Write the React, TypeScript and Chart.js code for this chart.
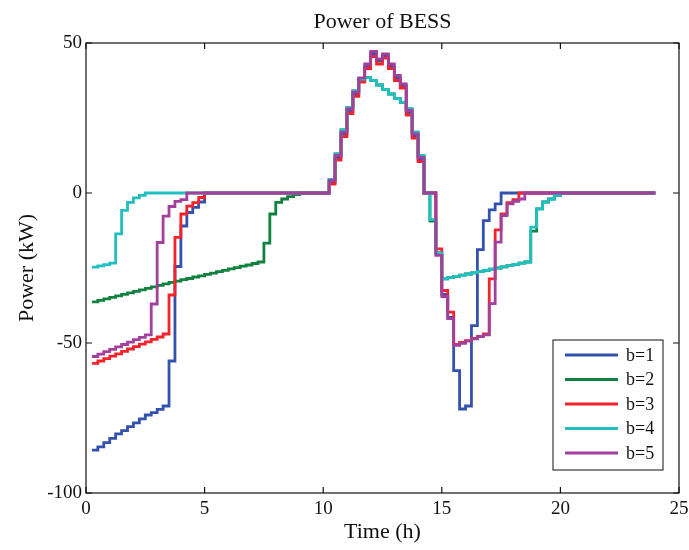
import React, { useEffect, useRef } from 'react';
import { Chart, registerables } from 'chart.js';

Chart.register(...registerables);

// time grid of the stairs plot, hours
const hours = [
  0.25, 0.5, 0.75, 1, 1.25, 1.5, 1.75, 2, 2.25, 2.5, 2.75, 3,
  3.25, 3.5, 3.75, 4, 4.25, 4.5, 4.75, 5, 5.25, 5.5, 5.75, 6,
  6.25, 6.5, 6.75, 7, 7.25, 7.5, 7.75, 8, 8.25, 8.5, 8.75, 9,
  9.25, 9.5, 9.75, 10, 10.25, 10.5, 10.75, 11, 11.25, 11.5, 11.75, 12,
  12.25, 12.5, 12.75, 13, 13.25, 13.5, 13.75, 14, 14.25, 14.5, 14.75, 15,
  15.25, 15.5, 15.75, 16, 16.25, 16.5, 16.75, 17, 17.25, 17.5, 17.75, 18,
  18.25, 18.5, 18.75, 19, 19.25, 19.5, 19.75, 20, 20.25, 20.5, 20.75, 21,
  21.25, 21.5, 21.75, 22, 22.25, 22.5, 22.75, 23, 23.25, 23.5, 23.75, 24,
];

// BESS power (kW) for each b
const b1 = [
  -85.7, -84.6, -83.2, -81.8, -80.3, -79.2, -77.9, -76.6, -75.3, -74, -73.2, -72.1,
  -71, -56, -24.5, -11, -6.5, -4.8, -3, 0, 0, 0, 0, 0,
  0, 0, 0, 0, 0, 0, 0, 0, 0, 0, 0, 0,
  0, 0, 0, 0, 3.6, 11.8, 19.6, 27.3, 33, 37.8, 42.3, 46.5,
  44, 45.8, 42.3, 38.5, 35.8, 26.8, 19, 11.2, 0, 0, -20.3, -33.8,
  -41.5, -59.2, -72, -71, -44.2, -18.9, -9.2, -5.6, -3.6, 0, 0, 0,
  0, 0, 0, 0, 0, 0, 0, 0, 0, 0, 0, 0,
  0, 0, 0, 0, 0, 0, 0, 0, 0, 0, 0, 0,
];

const b2 = [
  -36.3, -35.8, -35.3, -34.8, -34.3, -33.8, -33.3, -32.8, -32.3, -31.8, -31.3, -30.8,
  -30.3, -29.8, -29.4, -28.9, -28.5, -28, -27.6, -27.1, -26.7, -26.2, -25.8, -25.3,
  -24.9, -24.4, -24, -23.5, -23, -16.7, -7, -3.1, -2, -1.2, -0.5, 0,
  0, 0, 0, 0, 4.5, 13, 21, 28.5, 34, 38, 38.5, 37.5,
  36, 34.5, 33, 31.5, 30.2, 28, 20.3, 12.5, 0, -9.4, -20, -28.6,
  -28.2, -27.8, -27.4, -27, -26.6, -26.2, -25.8, -25.4, -25, -24.6, -24.2, -23.8,
  -23.4, -23, -12.7, -5.3, -3, -2, -0.8, 0, 0, 0, 0, 0,
  0, 0, 0, 0, 0, 0, 0, 0, 0, 0, 0, 0,
];

const b3 = [
  -56.8, -56, -55.2, -54.4, -53.6, -52.8, -52, -51.2, -50.4, -49.6, -48.8, -48,
  -47, -34, -14.8, -7, -4.4, -3.2, -1.5, 0, 0, 0, 0, 0,
  0, 0, 0, 0, 0, 0, 0, 0, 0, 0, 0, 0,
  0, 0, 0, 0, 3, 11, 18.8, 26.5, 32.2, 37, 41.5, 45.5,
  43, 45, 41.5, 37.5, 35, 26, 18.3, 10.5, 0, 0, -18.6, -32.5,
  -39.7, -50.5, -49.8, -49.2, -48.5, -47.8, -47, -28.6, -12.3, -7, -3.2, -2.2,
  0, 0, 0, 0, 0, 0, 0, 0, 0, 0, 0, 0,
  0, 0, 0, 0, 0, 0, 0, 0, 0, 0, 0, 0,
];

const b4 = [
  -24.7, -24.3, -23.9, -23.4, -13.6, -5.8, -3.1, -1.6, -0.8, 0, 0, 0,
  0, 0, 0, 0, 0, 0, 0, 0, 0, 0, 0, 0,
  0, 0, 0, 0, 0, 0, 0, 0, 0, 0, 0, 0,
  0, 0, 0, 0, 4.5, 13, 21, 28.5, 34, 38, 38.5, 37.5,
  36, 34.5, 33, 31.5, 30.2, 28, 20.3, 12.5, 0, -8.9, -20, -28.6,
  -28.2, -27.8, -27.4, -27, -26.6, -26.2, -25.8, -25.4, -25, -24.6, -24.2, -23.8,
  -23.4, -23, -11.4, -5.3, -3, -2, -0.8, 0, 0, 0, 0, 0,
  0, 0, 0, 0, 0, 0, 0, 0, 0, 0, 0, 0,
];

const b5 = [
  -54.5, -53.7, -52.9, -52.1, -51.3, -50.5, -49.7, -48.9, -48.1, -47.3, -37, -16.5,
  -7.7, -4.5, -2.8, -2.2, 0, 0, 0, 0, 0, 0, 0, 0,
  0, 0, 0, 0, 0, 0, 0, 0, 0, 0, 0, 0,
  0, 0, 0, 0, 4.2, 12.5, 20.3, 28, 33.6, 38.4, 43, 47.2,
  44.7, 46.4, 43, 39.2, 36.4, 27.5, 19.7, 11.9, 0, 0, -20.8, -34.5,
  -41.9, -50.8, -50.1, -49.4, -48.6, -47.9, -47.3, -36.9, -16.4, -7.5, -3.6, -2.8,
  -2, 0, 0, 0, 0, 0, 0, 0, 0, 0, 0, 0,
  0, 0, 0, 0, 0, 0, 0, 0, 0, 0, 0, 0,
];

const seriesLabels = ['b=1', 'b=2', 'b=3', 'b=4', 'b=5'];
const seriesColors = ['#3352ae', '#10813f', '#f2232b', '#22bfc0', '#a2409e'];
const xTicks = [0, 5, 10, 15, 20, 25];
const yTicks = [-100, -50, 0, 50];

const FONT = '"Liberation Serif", "Times New Roman", serif';

// matlab style box: frame, inward ticks, title, legend box in the lower right
const matlabBox = {
  id: 'matlabBox',
  afterDatasetsDraw(chart) {
    const { ctx, chartArea: a, scales } = chart;
    const x = scales.x;
    const y = scales.y;
    ctx.save();
    ctx.strokeStyle = '#111';
    ctx.lineWidth = 1.2;
    ctx.strokeRect(a.left, a.top, a.right - a.left, a.bottom - a.top);

    ctx.beginPath();
    xTicks.forEach((v) => {
      const px = x.getPixelForValue(v);
      ctx.moveTo(px, a.bottom);
      ctx.lineTo(px, a.bottom - 6);
      ctx.moveTo(px, a.top);
      ctx.lineTo(px, a.top + 6);
    });
    yTicks.forEach((v) => {
      const py = y.getPixelForValue(v);
      ctx.moveTo(a.left, py);
      ctx.lineTo(a.left + 6, py);
      ctx.moveTo(a.right, py);
      ctx.lineTo(a.right - 6, py);
    });
    ctx.stroke();

    // title
    ctx.fillStyle = '#111';
    ctx.font = '22px ' + FONT;
    ctx.textAlign = 'center';
    ctx.textBaseline = 'alphabetic';
    ctx.fillText('Power of BESS', (a.left + a.right) / 2, 28);

    // legend
    const bx = 553;
    const by = 340;
    ctx.fillStyle = '#fff';
    ctx.fillRect(bx, by, 110, 130);
    ctx.strokeStyle = '#111';
    ctx.lineWidth = 1;
    ctx.strokeRect(bx, by, 110, 130);
    ctx.font = '18px ' + FONT;
    ctx.textAlign = 'left';
    ctx.textBaseline = 'middle';
    chart.data.datasets.forEach((ds, i) => {
      const ry = by + 15 + i * 24.5;
      ctx.strokeStyle = ds.borderColor;
      ctx.lineWidth = 2.8;
      ctx.beginPath();
      ctx.moveTo(bx + 12, ry);
      ctx.lineTo(bx + 65, ry);
      ctx.stroke();
      ctx.fillStyle = '#111';
      ctx.fillText(ds.label, bx + 73, ry + 1);
    });
    ctx.restore();
  },
};

const BessChart = () => {
  const canvasRef = useRef<HTMLCanvasElement>(null);

  useEffect(() => {
    const all = [b1, b2, b3, b4, b5];
    const chart = new Chart(canvasRef.current, {
      type: 'line',
      data: {
        datasets: all.map((vals, i) => ({
          label: seriesLabels[i],
          data: vals.map((v, k) => ({ x: hours[k], y: v })),
          borderColor: seriesColors[i],
          borderWidth: 2.8,
          pointRadius: 0,
          stepped: 'before' as const,
          fill: false,
          order: all.length - i,
        })),
      },
      options: {
        responsive: false,
        animation: false,
        layout: { padding: { top: 43, right: 10, left: 0, bottom: 0 } },
        scales: {
          x: {
            type: 'linear',
            min: 0,
            max: 25,
            afterFit: (s) => {
              s.height = 57;
              s.paddingLeft = 0;
              s.paddingRight = 0;
            },
            afterBuildTicks: (s) => { s.ticks = xTicks.map((v) => ({ value: v })); },
            grid: { display: false, drawTicks: false },
            border: { display: false },
            ticks: { padding: 5, color: '#111', font: { family: FONT, size: 19 } },
            title: {
              display: true,
              text: 'Time (h)',
              color: '#111',
              font: { family: FONT, size: 22 },
              padding: { top: 0, bottom: 5 },
            },
          },
          y: {
            min: -100,
            max: 50,
            afterFit: (s) => {
              s.width = 86;
              s.paddingTop = 0;
              s.paddingBottom = 0;
            },
            afterBuildTicks: (s) => { s.ticks = yTicks.map((v) => ({ value: v })); },
            grid: { display: false, drawTicks: false },
            border: { display: false },
            ticks: { padding: 4, color: '#111', font: { family: FONT, size: 19 } },
            title: {
              display: true,
              text: 'Power (kW)',
              color: '#111',
              font: { family: FONT, size: 22 },
              padding: { top: 14, bottom: 0 },
            },
          },
        },
        plugins: {
          legend: { display: false },
          tooltip: { enabled: false },
          title: { display: false },
        },
      },
      plugins: [matlabBox],
    });

    return () => chart.destroy();
  }, []);

  return (
    <div style={{ position: 'absolute', left: 0, top: 0, width: 689, height: 550, background: '#fff' }}>
      <canvas ref={canvasRef} width={689} height={550} />
    </div>
  );
};

export default function App() {
  return <BessChart />;
}
